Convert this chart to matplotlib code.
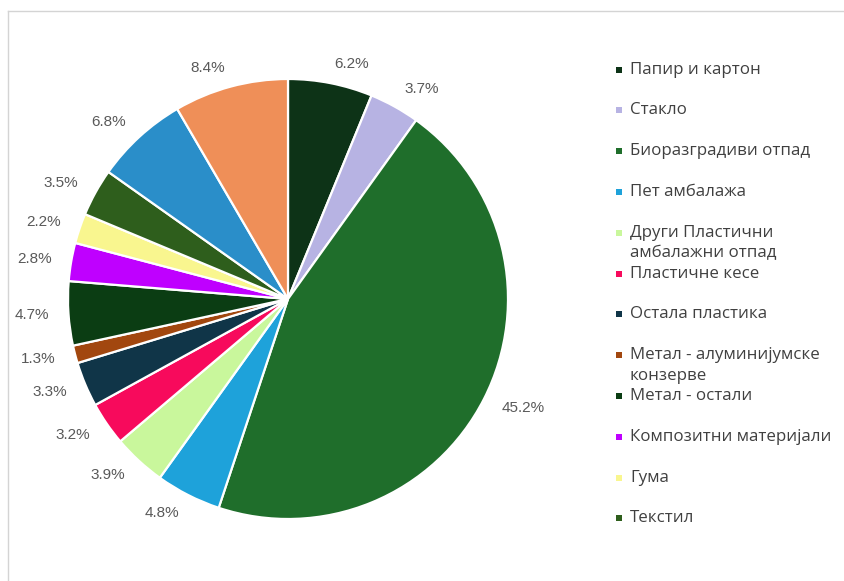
import matplotlib
matplotlib.use("Agg")
from matplotlib import pyplot as plt
from matplotlib.lines import Line2D
from matplotlib.patches import Rectangle

# shares in percent, clockwise from 12 o'clock
values = [6.2, 3.7, 45.2, 4.8, 3.9, 3.2, 3.3, 1.3, 4.7, 2.8, 2.2, 3.5, 6.8, 8.4]
colors = ["#0d3317", "#b7b3e3", "#1f6e2b", "#1ea2da", "#c9f79c", "#f70a5c",
          "#103548", "#a2470f", "#0b3d13", "#bf00ff", "#f9f68f", "#2e5e1c",
          "#2a8ec9", "#ef8f58"]
legend_labels = ["Папир и картон", "Стакло", "Биоразградиви отпад", "Пет амбалажа",
                 "Други Пластични\nамбалажни отпад", "Пластичне кесе", "Остала пластика",
                 "Метал - алуминијумске\nконзерве", "Метал - остали",
                 "Композитни материјали", "Гума", "Текстил"]

W, H = 845, 581
fig = plt.figure(figsize=(W/100, H/100), dpi=100)

# pie centre (288, 299) px, radius 220 px
cx, cy, r = 288, 299, 220
ax = fig.add_axes([(cx-r)/W, (H-cy-r)/H, 2*r/W, 2*r/H])
wedges, texts = ax.pie(values, colors=colors, startangle=90, counterclock=False,
                       labels=["{}%".format(v) for v in values], labeldistance=1.09,
                       wedgeprops=dict(edgecolor="white", linewidth=1.6),
                       textprops=dict(color="#595959", fontsize=11, family="Liberation Sans"))
ax.set_xlim(-1, 1)
ax.set_ylim(-1, 1)
ax.axis("off")

# legend drawn by hand: one slot per entry, wrapped lines hang below
y0, step, line_h = 69.5, 40.8, 20.5
for i, lab in enumerate(legend_labels):
    y = y0 + i*step
    fig.add_artist(Rectangle((616/W, (H-y-3)/H), 6/W, 6/H, transform=fig.transFigure,
                             facecolor=colors[i], edgecolor="none"))
    for k, line in enumerate(lab.split("\n")):
        fig.text(630/W, (H-y-k*line_h)/H, line, ha="left", va="center",
                 fontsize=12.2, color="#404040", family="Open Sans")

# light frame (left and top edges visible)
fig.add_artist(Line2D([8.5/W, 8.5/W], [0, (H-11)/H], transform=fig.transFigure,
                      color="#d4d4d4", linewidth=1))
fig.add_artist(Line2D([8.5/W, 1], [(H-11)/H, (H-11)/H], transform=fig.transFigure,
                      color="#d4d4d4", linewidth=1))

fig.savefig("out.png", dpi=100)
